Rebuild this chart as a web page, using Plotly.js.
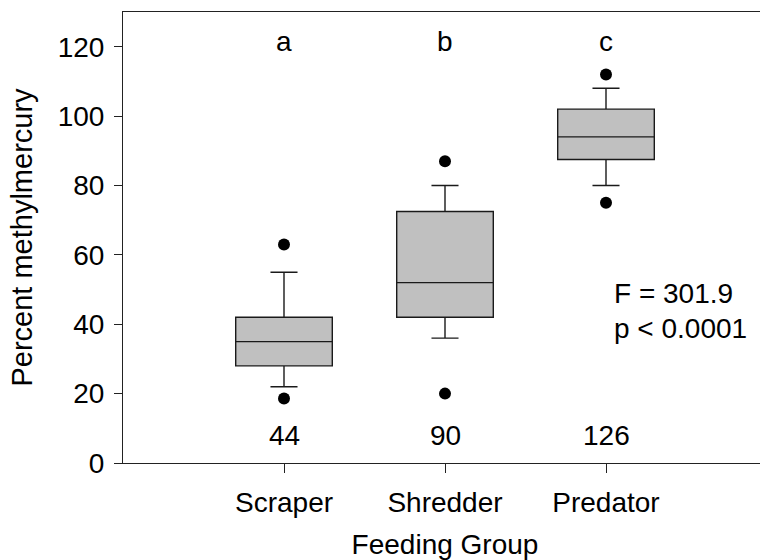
<!DOCTYPE html>
<html>
<head>
<meta charset="utf-8">
<script src="https://cdn.plot.ly/plotly-3.0.1.min.js"></script>
<style>
html, body { margin: 0; padding: 0; overflow: hidden; background: #fff; }
#chart { width: 775px; height: 560px; }
</style>
</head>
<body>
<div id="chart"></div>
<script>
// Data
const groups = ["Scraper", "Shredder", "Predator"];
const lowerWhisker = [22, 36, 80];
const q1 = [28, 42, 87.5];
const median = [35, 52, 94];
const q3 = [42, 72.5, 102];
const upperWhisker = [55, 80, 108];
const lowDots = [18.6, 20, 75];
const highDots = [63, 87, 112];
const sigLetters = ["a", "b", "c"];
const sampleSizes = ["44", "90", "126"];
const statLines = ["F = 301.9", "p < 0.0001"];

const font = "Liberation Sans, Arial, sans-serif";
const fs = 28;

const traces = [
  {
    type: "box",
    x: groups,
    q1: q1,
    median: median,
    q3: q3,
    lowerfence: lowerWhisker,
    upperfence: upperWhisker,
    width: 0.6,
    whiskerwidth: 0.28,
    fillcolor: "#c0c0c0",
    line: { color: "#1a1a1a", width: 1.4 },
    boxpoints: false,
    showlegend: false,
    hoverinfo: "skip"
  },
  {
    type: "scatter",
    mode: "markers",
    x: groups.concat(groups),
    y: lowDots.concat(highDots),
    marker: { color: "#000", size: 12 },
    showlegend: false,
    hoverinfo: "skip"
  }
];

const annotations = [];
groups.forEach((g, i) => {
  annotations.push({ x: g, y: 121.6, text: sigLetters[i], showarrow: false,
    font: { family: font, size: fs, color: "#000" }, xanchor: "center", yanchor: "middle" });
  annotations.push({ x: g, y: 8, text: sampleSizes[i], showarrow: false,
    font: { family: font, size: fs, color: "#000" }, xanchor: "center", yanchor: "middle" });
});
const statY = [48.8, 38.8];
statLines.forEach((t, i) => {
  annotations.push({ x: 2.04, y: statY[i], xref: "x", yref: "y", text: t, showarrow: false,
    font: { family: font, size: fs, color: "#000" }, xanchor: "left", yanchor: "middle" });
});

const layout = {
  width: 775,
  height: 560,
  margin: { l: 123, r: 8, t: 12, b: 97 },
  paper_bgcolor: "#fff",
  plot_bgcolor: "#fff",
  font: { family: font, size: fs, color: "#000" },
  xaxis: {
    type: "category",
    categoryorder: "array",
    categoryarray: groups,
    range: [-1, 3],
    showline: true,
    linecolor: "#222",
    linewidth: 1,
    mirror: true,
    ticks: "outside",
    ticklen: 9,
    tickcolor: "#222",
    showgrid: false,
    zeroline: false,
    tickfont: { family: font, size: fs },
    ticklabelstandoff: 5,
    title: { text: "Feeding Group", font: { family: font, size: fs }, standoff: 19 },
    automargin: false
  },
  yaxis: {
    range: [0, 130],
    tickvals: [0, 20, 40, 60, 80, 100, 120],
    showline: true,
    linecolor: "#222",
    linewidth: 1,
    ticks: "outside",
    ticklen: 8,
    tickcolor: "#222",
    showgrid: false,
    zeroline: false,
    tickfont: { family: font, size: fs },
    ticklabelstandoff: 4,
    title: { text: "Percent methylmercury", font: { family: font, size: 29 }, standoff: 16 },
    automargin: false
  },
  annotations: annotations
};

Plotly.newPlot("chart", traces, layout, { displayModeBar: false, staticPlot: true });
</script>
</body>
</html>
